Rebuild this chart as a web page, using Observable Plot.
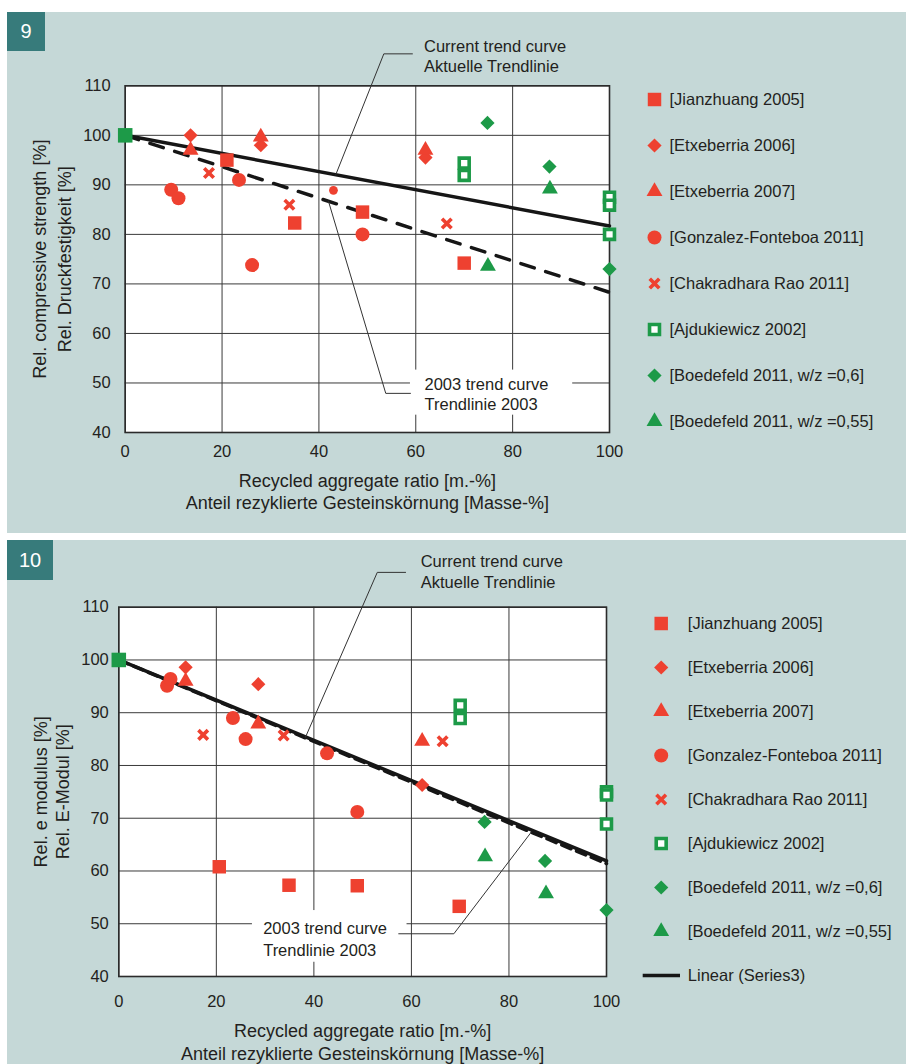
<!DOCTYPE html>
<html><head><meta charset="utf-8">
<script src="https://cdn.jsdelivr.net/npm/d3@7"></script>
<script src="https://cdn.jsdelivr.net/npm/@observablehq/plot@0.6"></script>
<style>
body{margin:0;background:#fff;width:906px;height:1064px;position:relative;overflow:hidden;font-family:"Liberation Sans",Arial,sans-serif;}
.panel{position:absolute;left:7px;width:899px;background:#c5d8d7;}
.badge{position:absolute;background:#377b7b;color:#fff;font-size:20px;display:flex;align-items:center;justify-content:center;}
.abs{position:absolute;overflow:visible;}
.abs svg{overflow:visible;max-width:none;}
</style></head><body>
<div class="panel" style="top:12px;height:521px"></div>
<div class="panel" style="top:540px;height:524px"></div>
<div class="badge" style="left:7px;top:12px;width:38px;height:39px">9</div>
<div class="badge" style="left:7px;top:540px;width:46px;height:40px">10</div>
<div id="c1" class="abs" style="left:0;top:0"></div>
<div id="l1" class="abs" style="left:630px;top:0"></div>
<div id="c2" class="abs" style="left:0;top:540px"></div>
<div id="l2" class="abs" style="left:630px;top:540px"></div>
<script>
// ---------- shared categories / ticks ----------
const seriesNames = ["[Jianzhuang 2005]", "[Etxeberria 2006]", "[Etxeberria 2007]", "[Gonzalez-Fonteboa 2011]", "[Chakradhara Rao 2011]", "[Ajdukiewicz 2002]", "[Boedefeld 2011, w/z =0,6]", "[Boedefeld 2011, w/z =0,55]"];
const lineLegendName = "Linear (Series3)";
const xTicks = [0, 20, 40, 60, 80, 100];
const yTicks = [40, 50, 60, 70, 80, 90, 100, 110];
const xTitle = "Recycled aggregate ratio [m.-%]\nAnteil rezyklierte Gesteinskörnung [Masse-%]";
const yTitle9 = "Rel. compressive strength [%]\nRel. Druckfestigkeit [%]";
const yTitle10 = "Rel. e modulus [%]\nRel. E-Modul [%]";
const currentLabel = "Current trend curve\nAktuelle Trendlinie";
const label2003 = "2003 trend curve\nTrendlinie 2003";

// ---------- Fig. 9: relative compressive strength ----------
const origin9 = [[0, 100]];
const jianzhuang9 = [[21, 95], [35, 82.3], [49, 84.5], [70, 74.2]];
const etx2006_9 = [[13.5, 100], [28, 98], [62, 95.5]];
const etx2007_9 = [[13.5, 97], [28, 99.7], [62, 97]];
const gonzalez9 = [[9.5, 89], [11, 87.3], [23.5, 91], [26.2, 73.8], [49, 80]];
const gonzalezSmall9 = [[43, 88.9]];
const chakradhara9 = [[17.3, 92.4], [33.9, 86], [66.4, 82.2]];
const ajdukiewicz9 = [[70, 94.4], [70, 91.9], [100, 87.5], [100, 85.9], [100, 80]];
const boed06_9 = [[74.8, 102.5], [87.6, 93.7], [100, 73]];
const boed055_9 = [[87.7, 89.2], [74.9, 73.6]];
const trendCurrent9 = [[0, 100], [100, 81.7]];
const trend2003_9 = [[0, 100], [100, 68.3]];
const leaderCurrent9 = [[43.5, 92.1], [53.4, 116.45], [59.3, 116.45]];
const leader2003_9 = [[42, 86.6], [53.8, 47.9], [58.9, 47.9]];
const annot9 = [{x: 61.7, y: 116.05, text: currentLabel}, {x: 61.8, y: 47.8, text: label2003}];
const box9 = {x1: 58.9, x2: 92.4, y1: 43.5, y2: 52.6};

// ---------- Fig. 10: relative E-modulus ----------
const origin10 = [[0, 100]];
const jianzhuang10 = [[20.6, 60.8], [34.9, 57.3], [48.9, 57.2], [69.8, 53.3]];
const etx2006_10 = [[13.7, 98.6], [28.6, 95.4], [62.2, 76.3]];
const etx2007_10 = [[13.7, 96], [28.6, 87.9], [62.2, 84.6]];
const gonzalez10 = [[9.9, 95.1], [10.6, 96.4], [23.4, 89], [26, 85], [42.7, 82.3], [48.9, 71.2]];
const chakradhara10 = [[17.3, 85.8], [33.8, 85.7], [66.4, 84.6]];
const ajdukiewicz10 = [[70, 91.4], [70, 88.9], [100, 75], [100, 74.4], [100, 68.9]];
const boed06_10 = [[75, 69.3], [87.4, 61.9], [100, 52.6]];
const boed055_10 = [[75.1, 62.7], [87.6, 55.7]];
const trendCurrent10 = [[0, 100], [100, 61.9]];
const trend2003_10 = [[0, 100], [100, 61.4]];
const leaderCurrent10 = [[38.3, 85.4], [53, 116.6], [58.8, 116.6]];
const leader2003_10 = [[84.6, 67.4], [68.7, 48.1], [57.4, 48.1]];
const annot10 = [{x: 61.9, y: 116.9, text: currentLabel, lh: 1.27}, {x: 29.6, y: 47.3, text: label2003, lh: 1.36}];
const box10 = {x1: 27.4, x2: 59.1, y1: 42.7, y2: 52.5};

// ---------- styles ----------
const RED = "#ee4130", GREEN = "#1d9a48", INK = "#231f20";
const styles = [
  {symbol: "square", fill: RED, r: 7.6},
  {symbol: "diamond2", fill: RED, r: 6.4},
  {symbol: "triangle", fill: RED, r: 5.9},
  {symbol: "circle", fill: RED, r: 7},
  {symbol: "times", stroke: RED, r: 4.4, strokeWidth: 3.6},
  {symbol: "square", fill: "white", stroke: GREEN, strokeWidth: 3.6, r: 5.6},
  {symbol: "diamond2", fill: GREEN, r: 6.4},
  {symbol: "triangle", fill: GREEN, r: 5.9}
];
const originStyle = {symbol: "square", fill: GREEN, r: 8.2};
const smallCircleStyle = {symbol: "circle", fill: RED, r: 4.4};
const FONT = "'Liberation Sans', Arial, sans-serif";
const px = d => d[0], py = d => d[1];

function makeChart(o) {
  const marks = [
    Plot.frame({fill: "white", stroke: null}),
    Plot.gridX(xTicks, {stroke: "#3a3a3a", strokeOpacity: 1, strokeWidth: 1}),
    Plot.gridY(yTicks, {stroke: "#3a3a3a", strokeOpacity: 1, strokeWidth: 1}),
    Plot.rect([o.box], {x1: "x1", x2: "x2", y1: "y1", y2: "y2", fill: "white"}),
    Plot.frame({stroke: "#2b2b2b", strokeWidth: 1.6}),
    Plot.axisX(xTicks, {tickSize: 0, tickPadding: o.xPad, label: null, fill: INK, fontSize: 16.5}),
    Plot.axisY(yTicks, {tickSize: 0, tickPadding: o.yPad, label: null, fill: INK, fontSize: 16.5}),
    Plot.line(o.trend2003, {x: px, y: py, stroke: "#161616", strokeWidth: 3.5, strokeDasharray: o.dash}),
    Plot.line(o.trendCurrent, {x: px, y: py, stroke: "#161616", strokeWidth: 3.5}),
    Plot.line(o.leaderCurrent, {x: px, y: py, stroke: "#333", strokeWidth: 1}),
    Plot.line(o.leader2003, {x: px, y: py, stroke: "#333", strokeWidth: 1}),
    Plot.text(o.annot.slice(0, 1), {x: "x", y: "y", text: "text", textAnchor: "start", lineHeight: o.annot[0].lh || 1.2, fill: INK, fontSize: 16.5}),
    Plot.text(o.annot.slice(1), {x: "x", y: "y", text: "text", textAnchor: "start", lineHeight: o.annot[1].lh || 1.2, fill: INK, fontSize: 16.5}),
    Plot.text([xTitle], {frameAnchor: "bottom", textAnchor: "middle", lineAnchor: "top", dy: o.xTitleDy, lineHeight: o.xLH, text: d => d, fill: INK, fontSize: 18}),
    Plot.text([o.yTitle], {frameAnchor: "left", textAnchor: "middle", lineAnchor: "middle", rotate: -90, dx: o.yTitleDx, lineHeight: o.yLH, text: d => d, fill: INK, fontSize: 18})
  ];
  o.series.forEach((s, i) => marks.push(Plot.dot(s, {x: px, y: py, ...styles[i]})));
  if (o.small) marks.push(Plot.dot(o.small, {x: px, y: py, ...smallCircleStyle}));
  marks.push(Plot.dot(o.origin, {x: px, y: py, ...originStyle}));
  return Plot.plot({
    width: o.width, height: o.height,
    marginLeft: o.ml, marginRight: o.width - o.plotRight, marginTop: o.mt, marginBottom: o.height - o.plotBottom,
    x: {domain: [0, 100]}, y: {domain: [40, 110]},
    style: {background: "none", fontSize: "16.5px", fontFamily: FONT, color: INK, overflow: "visible"},
    marks
  });
}

function makeLegend(o) {
  const names = o.withLine ? [...seriesNames, lineLegendName] : seriesNames;
  const marks = [];
  styles.forEach((s, i) => marks.push(Plot.dot([seriesNames[i]], {y: d => d, frameAnchor: "left", dx: o.markerDx, ...s})));
  if (o.withLine) marks.push(Plot.ruleY([lineLegendName], {y: d => d, insetLeft: o.lineL, insetRight: o.width - o.lineR, stroke: "#161616", strokeWidth: 3.5}));
  marks.push(Plot.text(names, {y: d => d, text: d => d, frameAnchor: "left", dx: o.textDx, textAnchor: "start", fill: INK, fontSize: 16.5}));
  return Plot.plot({
    width: o.width, height: o.height, margin: 0,
    y: {type: "point", domain: names, range: o.range, padding: 0, axis: null},
    style: {background: "none", fontSize: "16.5px", fontFamily: FONT, color: INK, overflow: "visible"},
    marks
  });
}

document.getElementById("c1").append(makeChart({
  width: 640, height: 530, ml: 124.7, plotRight: 609, mt: 85.3, plotBottom: 432,
  xPad: 13, yPad: 14.5, xTitleDy: 39.2, xLH: 1.22, yTitleDx: -74.4, yLH: 1.35, yTitle: yTitle9,
  dash: "14,12",
  series: [jianzhuang9, etx2006_9, etx2007_9, gonzalez9, chakradhara9, ajdukiewicz9, boed06_9, boed055_9],
  small: gonzalezSmall9,
  origin: origin9, trendCurrent: trendCurrent9, trend2003: trend2003_9,
  leaderCurrent: leaderCurrent9, leader2003: leader2003_9, annot: annot9, box: box9
}));
document.getElementById("l1").append(makeLegend({width: 276, height: 530, range: [98.3, 421.7], markerDx: 24, textDx: 39, withLine: false}));

document.getElementById("c2").append(makeChart({
  width: 640, height: 524, ml: 118.3, plotRight: 606, mt: 66.7, plotBottom: 436,
  xPad: 18.3, yPad: 10, xTitleDy: 43.9, xLH: 1.3, yTitleDx: -68.3, yLH: 1.22, yTitle: yTitle10,
  dash: "10,6",
  series: [jianzhuang10, etx2006_10, etx2007_10, gonzalez10, chakradhara10, ajdukiewicz10, boed06_10, boed055_10],
  origin: origin10, trendCurrent: trendCurrent10, trend2003: trend2003_10,
  leaderCurrent: leaderCurrent10, leader2003: leader2003_10, annot: annot10, box: box10
}));
document.getElementById("l2").append(makeLegend({width: 276, height: 524, range: [82.7, 435], markerDx: 30.7, textDx: 57.3, withLine: true, lineL: 12.7, lineR: 50}));
</script>
</body></html>
